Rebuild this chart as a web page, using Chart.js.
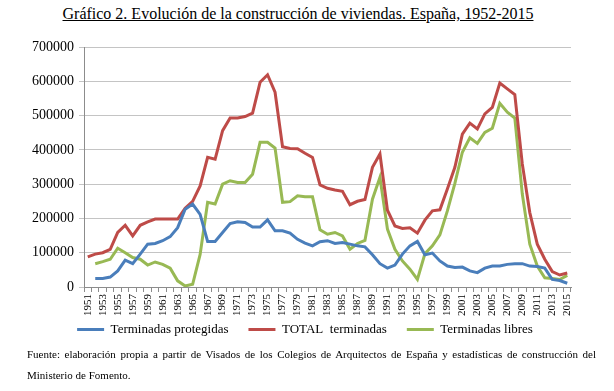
<!DOCTYPE html>
<html lang="es">
<head>
<meta charset="utf-8">
<title>Gráfico 2</title>
<script src="https://cdn.jsdelivr.net/npm/chart.js@4.4.1/dist/chart.umd.min.js"></script>
<style>
  html, body { margin: 0; padding: 0; background: #fff; }
  body {
    width: 614px; height: 391px; position: relative; overflow: hidden;
    font-family: "Liberation Serif", "Times New Roman", serif; color: #000;
  }
  #title {
    position: absolute; left: 0; top: 5px; width: 596px;
    text-align: center; font-size: 16px; text-decoration: underline;
  }
  #chart { position: absolute; left: 0; top: 30px; }
  #source {
    position: absolute; left: 27px; top: 344px; width: 569px;
    font-size: 11px; line-height: 21px;
    text-align: justify; text-align-last: left;
  }
</style>
</head>
<body>
<div id="title">Gráfico 2. Evolución de la construcción de viviendas. España, 1952-2015</div>
<canvas id="chart" width="614" height="331"></canvas>
<div id="source">Fuente: elaboración propia a partir de Visados de los Colegios de Arquitectos de España y estadísticas de construcción del Ministerio de Fomento.</div>

<script>
  // years 1951..2015
  var years = [];
  for (var y = 1951; y <= 2015; y++) years.push(String(y));

  var protegidas = [
    null, 25000, 25000, 29000, 47000, 78000, 68000, 96000, 125000, 127000,
    135000, 147000, 173000, 227000, 242000, 212000, 133000, 133000, 159000, 185000,
    190000, 188000, 175000, 175000, 196000, 164000, 164000, 157000, 139000, 128000,
    120000, 132000, 135000, 127000, 130000, 125000, 120000, 117000, 94000, 68000,
    55000, 64000, 96000, 120000, 133000, 94000, 99000, 76000, 61000, 57000,
    58000, 47000, 42000, 55000, 61000, 61000, 66000, 68000, 68000, 61000,
    60000, 55000, 22000, 19000, 11000
  ];

  var total = [
    88000, 96000, 100000, 110000, 159000, 180000, 149000, 180000, 190000, 198000,
    198000, 198000, 198000, 230000, 250000, 295000, 378000, 373000, 456000, 493000,
    493000, 497000, 507000, 597000, 619000, 568000, 409000, 404000, 403000, 390000,
    378000, 298000, 288000, 283000, 279000, 240000, 250000, 255000, 349000, 388000,
    224000, 178000, 171000, 173000, 157000, 195000, 222000, 225000, 286000, 349000,
    446000, 478000, 461000, 505000, 524000, 595000, 578000, 561000, 359000, 217000,
    125000, 81000, 45000, 35000, 41000
  ];

  var libres = [
    null, 68000, 74000, 81000, 113000, 100000, 86000, 81000, 64000, 73000,
    66000, 55000, 18000, 3000, 8000, 95000, 247000, 242000, 300000, 310000,
    305000, 305000, 329000, 422000, 422000, 405000, 247000, 249000, 266000, 263000,
    263000, 167000, 154000, 159000, 149000, 110000, 127000, 136000, 256000, 320000,
    169000, 110000, 76000, 52000, 22000, 97000, 120000, 152000, 222000, 302000,
    393000, 435000, 419000, 451000, 463000, 536000, 510000, 493000, 271000, 125000,
    61000, 27000, 25000, 22000, 34000
  ];

  var COLORS = {
    blue: '#4a7ebb',
    red: '#be4b48',
    green: '#98b954'
  };

  var SERIF = '"Liberation Serif", "Times New Roman", serif';

  function series(label, data, color) {
    return {
      label: label,
      data: data,
      borderColor: color,
      backgroundColor: color,
      borderWidth: 3,
      pointRadius: 0,
      tension: 0
    };
  }

  // legend padding also spaces the items apart; pull the row back up
  // under the year labels and nudge it right, like the Excel original
  var legendShift = {
    id: 'legendShift',
    afterLayout: function (chart) {
      var lg = chart.legend;
      if (!lg) return;
      lg.left += 6;
      lg.right += 6;
      lg.top -= 15;
      lg.bottom -= 15;
    }
  };

  function draw() {
    Chart.defaults.font.family = SERIF;
    Chart.defaults.color = '#000';

    new Chart(document.getElementById('chart').getContext('2d'), {
      type: 'line',
      data: {
        labels: years,
        datasets: [
          series('Terminadas protegidas', protegidas, COLORS.blue),
          series('TOTAL  terminadas', total, COLORS.red),
          series('Terminadas libres', libres, COLORS.green)
        ]
      },
      plugins: [legendShift],
      options: {
        responsive: false,
        animation: false,
        devicePixelRatio: 1,
        layout: { padding: { left: 27, right: 43, top: 17, bottom: 0 } },
        plugins: {
          tooltip: { enabled: false },
          legend: {
            display: true,
            position: 'bottom',
            labels: {
              font: { family: SERIF, size: 13 },
              color: '#000',
              usePointStyle: true,
              pointStyle: 'line',
              pointStyleWidth: 27,
              boxHeight: 13,
              padding: 20
            }
          }
        },
        scales: {
          x: {
            type: 'category',
            offset: true,
            grid: { offset: true, drawOnChartArea: false, drawTicks: true, tickLength: 5, color: '#8c8c8c' },
            border: { display: true, color: '#8c8c8c' },
            ticks: {
              autoSkip: false,
              minRotation: 90,
              maxRotation: 90,
              padding: 2,
              color: '#000',
              font: { family: SERIF, size: 11 },
              callback: function (v, i) { return i % 2 === 0 ? this.getLabelForValue(v) : ''; }
            }
          },
          y: {
            min: 0,
            max: 700000,
            grid: { color: '#c4c4c4', tickLength: 5 },
            border: { display: true, color: '#8c8c8c' },
            ticks: {
              stepSize: 100000,
              padding: 5,
              color: '#000',
              font: { family: SERIF, size: 14 },
              callback: function (v) { return String(v); }
            }
          }
        }
      }
    });
  }

  if (document.fonts && document.fonts.load) {
    document.fonts.load('14px "Liberation Serif"').then(draw, draw);
  } else {
    draw();
  }
</script>
</body>
</html>
